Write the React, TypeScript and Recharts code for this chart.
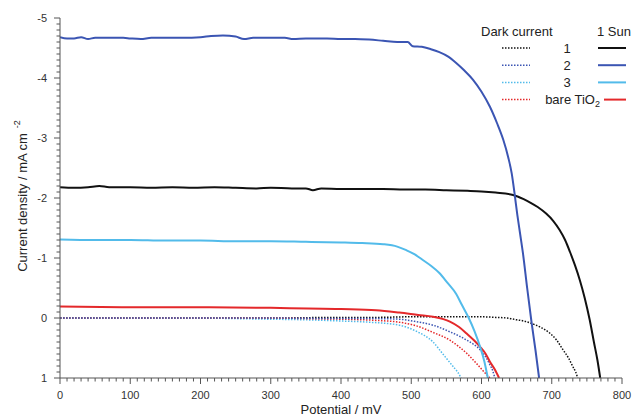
import React from 'react';
import { LineChart, Line, XAxis, YAxis, Label } from 'recharts';

// Potential (mV) vs current density (mA cm^-2); y axis inverted
const xMajorTicks = [0, 100, 200, 300, 400, 500, 600, 700, 800];
const yMajorTicks = [-5, -4, -3, -2, -1, 0, 1];

const sun1: [number, number][] = [
  [0, -2.18], [20, -2.17], [40, -2.18], [56, -2.2], [70, -2.18], [100, -2.18], [130, -2.17], [160, -2.18],
  [190, -2.17], [220, -2.18], [250, -2.17], [280, -2.16], [300, -2.17], [330, -2.16], [350, -2.16],
  [360, -2.13], [372, -2.16], [400, -2.15], [430, -2.15], [460, -2.15], [490, -2.14], [520, -2.14],
  [550, -2.13], [580, -2.12], [600, -2.11], [620, -2.09], [645, -2.05], [660, -1.98], [670, -1.92],
  [680, -1.85], [692, -1.74], [702, -1.62], [711, -1.47], [719, -1.3], [726, -1.1], [733, -0.88],
  [740, -0.63], [747, -0.33], [754, 0.03], [760, 0.4], [765, 0.7], [769, 1.0],
];
const sun2: [number, number][] = [
  [0, -4.68], [10, -4.66], [20, -4.66], [30, -4.68], [40, -4.65], [50, -4.67], [70, -4.67], [90, -4.67],
  [100, -4.66], [115, -4.65], [130, -4.67], [150, -4.67], [175, -4.67], [200, -4.68], [215, -4.7],
  [232, -4.71], [250, -4.69], [262, -4.65], [275, -4.67], [300, -4.67], [320, -4.67], [332, -4.65],
  [350, -4.66], [380, -4.66], [400, -4.65], [420, -4.65], [440, -4.64], [460, -4.62], [480, -4.6],
  [495, -4.6], [502, -4.53], [515, -4.52], [528, -4.48], [540, -4.43], [552, -4.36], [564, -4.25],
  [576, -4.12], [588, -3.97], [600, -3.77], [612, -3.52], [622, -3.25], [631, -2.97], [638, -2.68],
  [643, -2.41], [647, -2.08], [651, -1.72], [655, -1.4], [659, -1.08], [665, -0.5], [671, 0.05],
  [677, 0.55], [682, 1.0],
];
const sun3: [number, number][] = [
  [0, -1.31], [50, -1.3], [100, -1.3], [150, -1.29], [200, -1.29], [250, -1.28], [300, -1.28],
  [350, -1.27], [400, -1.26], [430, -1.25], [460, -1.23], [480, -1.19], [493, -1.13], [505, -1.06],
  [516, -0.97], [528, -0.87], [540, -0.75], [552, -0.58], [564, -0.4], [572, -0.22], [581, -0.02],
  [590, 0.22], [598, 0.48], [604, 0.72], [609, 1.0],
];
const sunBare: [number, number][] = [
  [0, -0.19], [100, -0.18], [200, -0.18], [300, -0.17], [400, -0.15], [450, -0.13], [483, -0.09],
  [510, -0.05], [531, -0.02], [555, 0.06], [568, 0.15], [579, 0.26], [590, 0.38], [598, 0.48],
  [606, 0.6], [612, 0.73], [619, 0.86], [625, 1.0],
];
const dark1: [number, number][] = [
  [0, 0], [100, 0], [200, 0], [300, 0], [400, -0.01], [450, -0.01], [500, -0.02], [550, -0.02],
  [600, -0.02], [620, -0.01], [636, 0], [650, 0.03], [660, 0.05], [671, 0.09], [685, 0.16], [697, 0.25],
  [707, 0.37], [716, 0.53], [724, 0.67], [730, 0.81], [734, 0.9], [737, 1.0],
];
const dark2: [number, number][] = [
  [0, 0], [100, 0], [200, 0], [300, 0], [350, 0.005], [400, 0.01], [450, 0.01], [483, 0.02], [507, 0.06],
  [531, 0.12], [555, 0.23], [579, 0.37], [598, 0.53], [606, 0.65], [612, 0.78], [616, 0.88], [619, 1.0],
];
const dark3: [number, number][] = [
  [0, 0], [100, 0], [200, 0], [250, 0.01], [300, 0.02], [350, 0.03], [400, 0.05], [440, 0.07],
  [483, 0.12], [507, 0.22], [531, 0.4], [545, 0.6], [559, 0.8], [566, 0.9], [571, 1.0],
];
const darkBare: [number, number][] = [
  [0, 0], [100, 0], [200, 0], [300, 0], [350, 0.01], [400, 0.02], [450, 0.04], [483, 0.07], [507, 0.13],
  [531, 0.24], [555, 0.37], [567, 0.47], [580, 0.6], [593, 0.76], [603, 0.89], [612, 1.0],
];

const BLACK = '#111111';
const BLUE = '#3b55b3';
const LIGHT = '#52bbea';
const RED = '#e4292b';
const FONT = '"Liberation Sans", Arial, Helvetica, sans-serif';

const toPts = (arr: [number, number][]) => arr.map(([x, y]) => ({ x, y }));

const xMinor = Array.from({ length: 81 }, (_, i) => i * 10);
const yMinor = Array.from({ length: 61 }, (_, i) => Math.round((-5 + i * 0.1) * 10) / 10);

const XTick = (props: any) => {
  const { x, y, payload } = props;
  const v = payload.value;
  const major = xMajorTicks.includes(v);
  return (
    <g>
      <line x1={x} x2={x} y1={y} y2={y + (major ? 6 : 3.5)} stroke="#555" strokeWidth={1} />
      {major && (
        <text x={x} y={y + 21} textAnchor="middle" fontSize={11} fill="#333" fontFamily={FONT}>
          {v}
        </text>
      )}
    </g>
  );
};

const YTick = (props: any) => {
  const { x, y, payload } = props;
  const v = payload.value;
  const major = yMajorTicks.includes(v);
  return (
    <g>
      <line x1={x} x2={x - (major ? 6 : 3.5)} y1={y} y2={y} stroke="#555" strokeWidth={1} />
      {major && (
        <text x={x - 13} y={y + 4} textAnchor="end" fontSize={11} fill="#333" fontFamily={FONT}>
          {String(v)}
        </text>
      )}
    </g>
  );
};

const YLabel = (props: any) => {
  const vb = props.viewBox || { x: 0, y: 0, width: 0, height: 0 };
  const cx = 27;
  const cy = vb.y + vb.height / 2 - 2;
  return (
    <text
      x={cx}
      y={cy}
      transform={`rotate(-90 ${cx} ${cy})`}
      textAnchor="middle"
      fontSize={13}
      fill="#222"
      fontFamily={FONT}
    >
      Current density / mA cm
      <tspan dx={5} dy={-7} fontSize={9}>-2</tspan>
    </text>
  );
};

const legendRows = [
  { label: '1', color: BLACK },
  { label: '2', color: BLUE },
  { label: '3', color: LIGHT },
  { label: 'bare', color: RED },
];

const LegendOverlay = () => (
  <svg
    width={633}
    height={120}
    style={{ position: 'absolute', left: 0, top: 0, pointerEvents: 'none' }}
  >
    <text x={481} y={36} fontSize={13} fill="#222" fontFamily={FONT}>Dark current</text>
    <text x={597} y={36} fontSize={13} fill="#222" fontFamily={FONT}>1 Sun</text>
    {legendRows.map((r, i) => {
      const cy = 48 + i * 17.2;
      const isBare = r.label === 'bare';
      return (
        <g key={r.label}>
          <line x1={502} x2={530} y1={cy} y2={cy} stroke={r.color} strokeWidth={1.5} strokeDasharray="1.5 1.5" />
          {isBare ? (
            <text x={600} y={cy + 4.5} textAnchor="end" fontSize={13} fill="#222" fontFamily={FONT}>
              bare TiO
              <tspan dy={3} fontSize={9}>2</tspan>
            </text>
          ) : (
            <text x={567} y={cy + 4.5} textAnchor="middle" fontSize={13} fill="#222" fontFamily={FONT}>
              {r.label}
            </text>
          )}
          <line x1={isBare ? 604 : 598} x2={626} y1={cy} y2={cy} stroke={r.color} strokeWidth={2} />
        </g>
      );
    })}
  </svg>
);

export default function App() {
  return (
    <div style={{ position: 'absolute', left: 0, top: 0, width: 633, height: 416, overflow: 'hidden' }}>
      <LineChart width={633} height={416} margin={{ top: 18, right: 11, bottom: 0, left: 0 }}>
        <XAxis
          dataKey="x"
          type="number"
          domain={[0, 800]}
          ticks={xMinor}
          interval={0}
          tick={<XTick />}
          tickSize={0}
          tickMargin={0}
          tickLine={false}
          height={38}
          axisLine={{ stroke: '#555' }}
          allowDataOverflow
        >
          <Label
            value="Potential / mV"
            position="insideBottom"
            offset={2}
            fontSize={13}
            fill="#222"
            fontFamily={FONT}
          />
        </XAxis>
        <YAxis
          dataKey="y"
          type="number"
          domain={[-5, 1]}
          reversed
          ticks={yMinor}
          interval={0}
          tick={<YTick />}
          tickSize={0}
          tickMargin={0}
          tickLine={false}
          width={60}
          axisLine={{ stroke: '#555' }}
          allowDataOverflow
        >
          <Label content={<YLabel />} />
        </YAxis>
        <Line data={toPts(dark1)} dataKey="y" type="monotone" stroke={BLACK} strokeWidth={1.5} strokeDasharray="1.5 1.5" dot={false} isAnimationActive={false} />
        <Line data={toPts(dark3)} dataKey="y" type="monotone" stroke={LIGHT} strokeWidth={1.5} strokeDasharray="1.5 1.5" dot={false} isAnimationActive={false} />
        <Line data={toPts(darkBare)} dataKey="y" type="monotone" stroke={RED} strokeWidth={1.5} strokeDasharray="1.5 1.5" dot={false} isAnimationActive={false} />
        <Line data={toPts(dark2)} dataKey="y" type="monotone" stroke={BLUE} strokeWidth={1.5} strokeDasharray="1.5 1.5" dot={false} isAnimationActive={false} />
        <Line data={toPts(sunBare)} dataKey="y" type="monotone" stroke={RED} strokeWidth={2} dot={false} isAnimationActive={false} />
        <Line data={toPts(sun3)} dataKey="y" type="monotone" stroke={LIGHT} strokeWidth={2} dot={false} isAnimationActive={false} />
        <Line data={toPts(sun1)} dataKey="y" type="monotone" stroke={BLACK} strokeWidth={2} dot={false} isAnimationActive={false} />
        <Line data={toPts(sun2)} dataKey="y" type="monotone" stroke={BLUE} strokeWidth={2} dot={false} isAnimationActive={false} />
      </LineChart>
      <LegendOverlay />
    </div>
  );
}
